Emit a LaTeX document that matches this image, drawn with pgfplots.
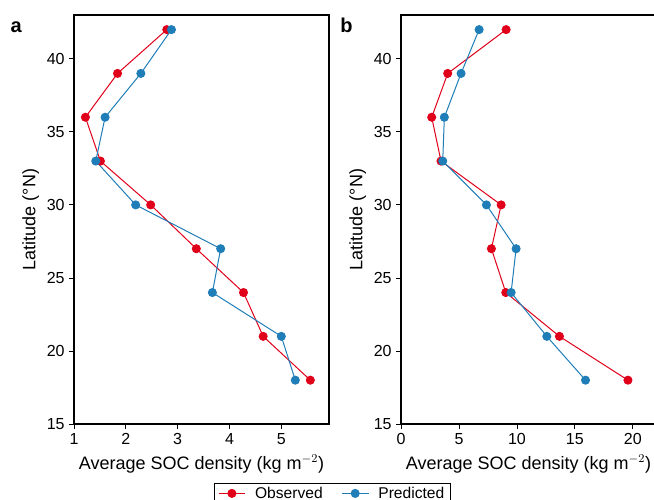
\documentclass[border=0pt]{standalone}
\usepackage{pgfplots}
\pgfplotsset{compat=1.18}
\usepackage{fontspec}
\setmainfont{Liberation Sans}
\definecolor{obsred}{RGB}{224,0,26}
\definecolor{predblue}{RGB}{31,126,184}
\pgfplotstableread{
lat obsa preda obsb predb
42 2.79 2.88 9.07 6.74
39 1.84 2.29 4.03 5.18
36 1.22 1.60 2.65 3.74
33 1.51 1.42 3.45 3.60
30 2.48 2.19 8.64 7.37
27 3.36 3.83 7.80 9.93
24 4.27 3.67 9.04 9.50
21 4.65 5.00 13.67 12.58
18 5.56 5.27 19.58 15.92
}\data
\pgfplotsset{
  panel/.style={
    scale only axis,
    width=191.25pt, height=306.75pt,
    anchor=south west,
    ymin=15, ymax=43,
    ytick={15,20,25,30,35,40},
    axis line style={line width=0.8pt, black},
    tick align=outside,
    major tick length=3.5pt,
    tick style={line width=0.6pt, black},
    xtick pos=bottom, ytick pos=left,
    tick label style={font=\fontsize{12}{14}\selectfont},
    /pgf/number format/assume math mode=true,
    label style={font=\fontsize{13.5}{16}\selectfont},
    xlabel={Average SOC density (kg m$^{-2}$)},
    ylabel={Latitude (°N)},
    xlabel style={yshift=-0.5pt},
    ylabel style={yshift=-1pt},
    clip=false,
  },
  obs/.style={color=obsred, line width=0.75pt, mark=*, mark size=3pt, mark options={solid, fill=obsred, draw=obsred}},
  pred/.style={color=predblue, line width=0.75pt, mark=*, mark size=3pt, mark options={solid, fill=predblue, draw=predblue}},
}
\begin{document}
\begin{tikzpicture}
\useasboundingbox (0,0) rectangle (490.5pt,375pt);
\begin{axis}[panel, at={(55.5pt,57pt)},
  xmin=1, xmax=5.92, xtick={1,2,3,4,5},
  legend columns=2,
  legend style={at={(axis description cs:1.0137,-0.1443)}, anchor=north,
    font=\fontsize{11.7}{14}\selectfont, draw=black, line width=0.6pt,
    /tikz/every odd column/.append style={column sep=5pt},
    /tikz/every even column/.append style={column sep=12pt},
    inner xsep=2.5pt, inner ysep=0.5pt},
  legend image code/.code={\draw[line width=0.75pt, mark repeat=2, mark phase=2] plot coordinates {(0pt,0pt) (10pt,0pt) (20pt,0pt)};},
]
\addplot[obs] table[x=obsa, y=lat] {\data};
\addlegendentry{Observed}
\addplot[pred] table[x=preda, y=lat] {\data};
\addlegendentry{Predicted}
\node[font=\bfseries\fontsize{15}{18}\selectfont, anchor=base west] at (rel axis cs:0,1) [xshift=-51pt, yshift=-13pt] {a};
\end{axis}
\begin{axis}[panel, at={(300.75pt,57pt)},
  xmin=0, xmax=22, xtick={0,5,10,15,20},
]
\addplot[obs] table[x=obsb, y=lat] {\data};
\addplot[pred] table[x=predb, y=lat] {\data};
\node[font=\bfseries\fontsize{15}{18}\selectfont, anchor=base west] at (rel axis cs:0,1) [xshift=-49pt, yshift=-13pt] {b};
\end{axis}
\end{tikzpicture}
\end{document}
